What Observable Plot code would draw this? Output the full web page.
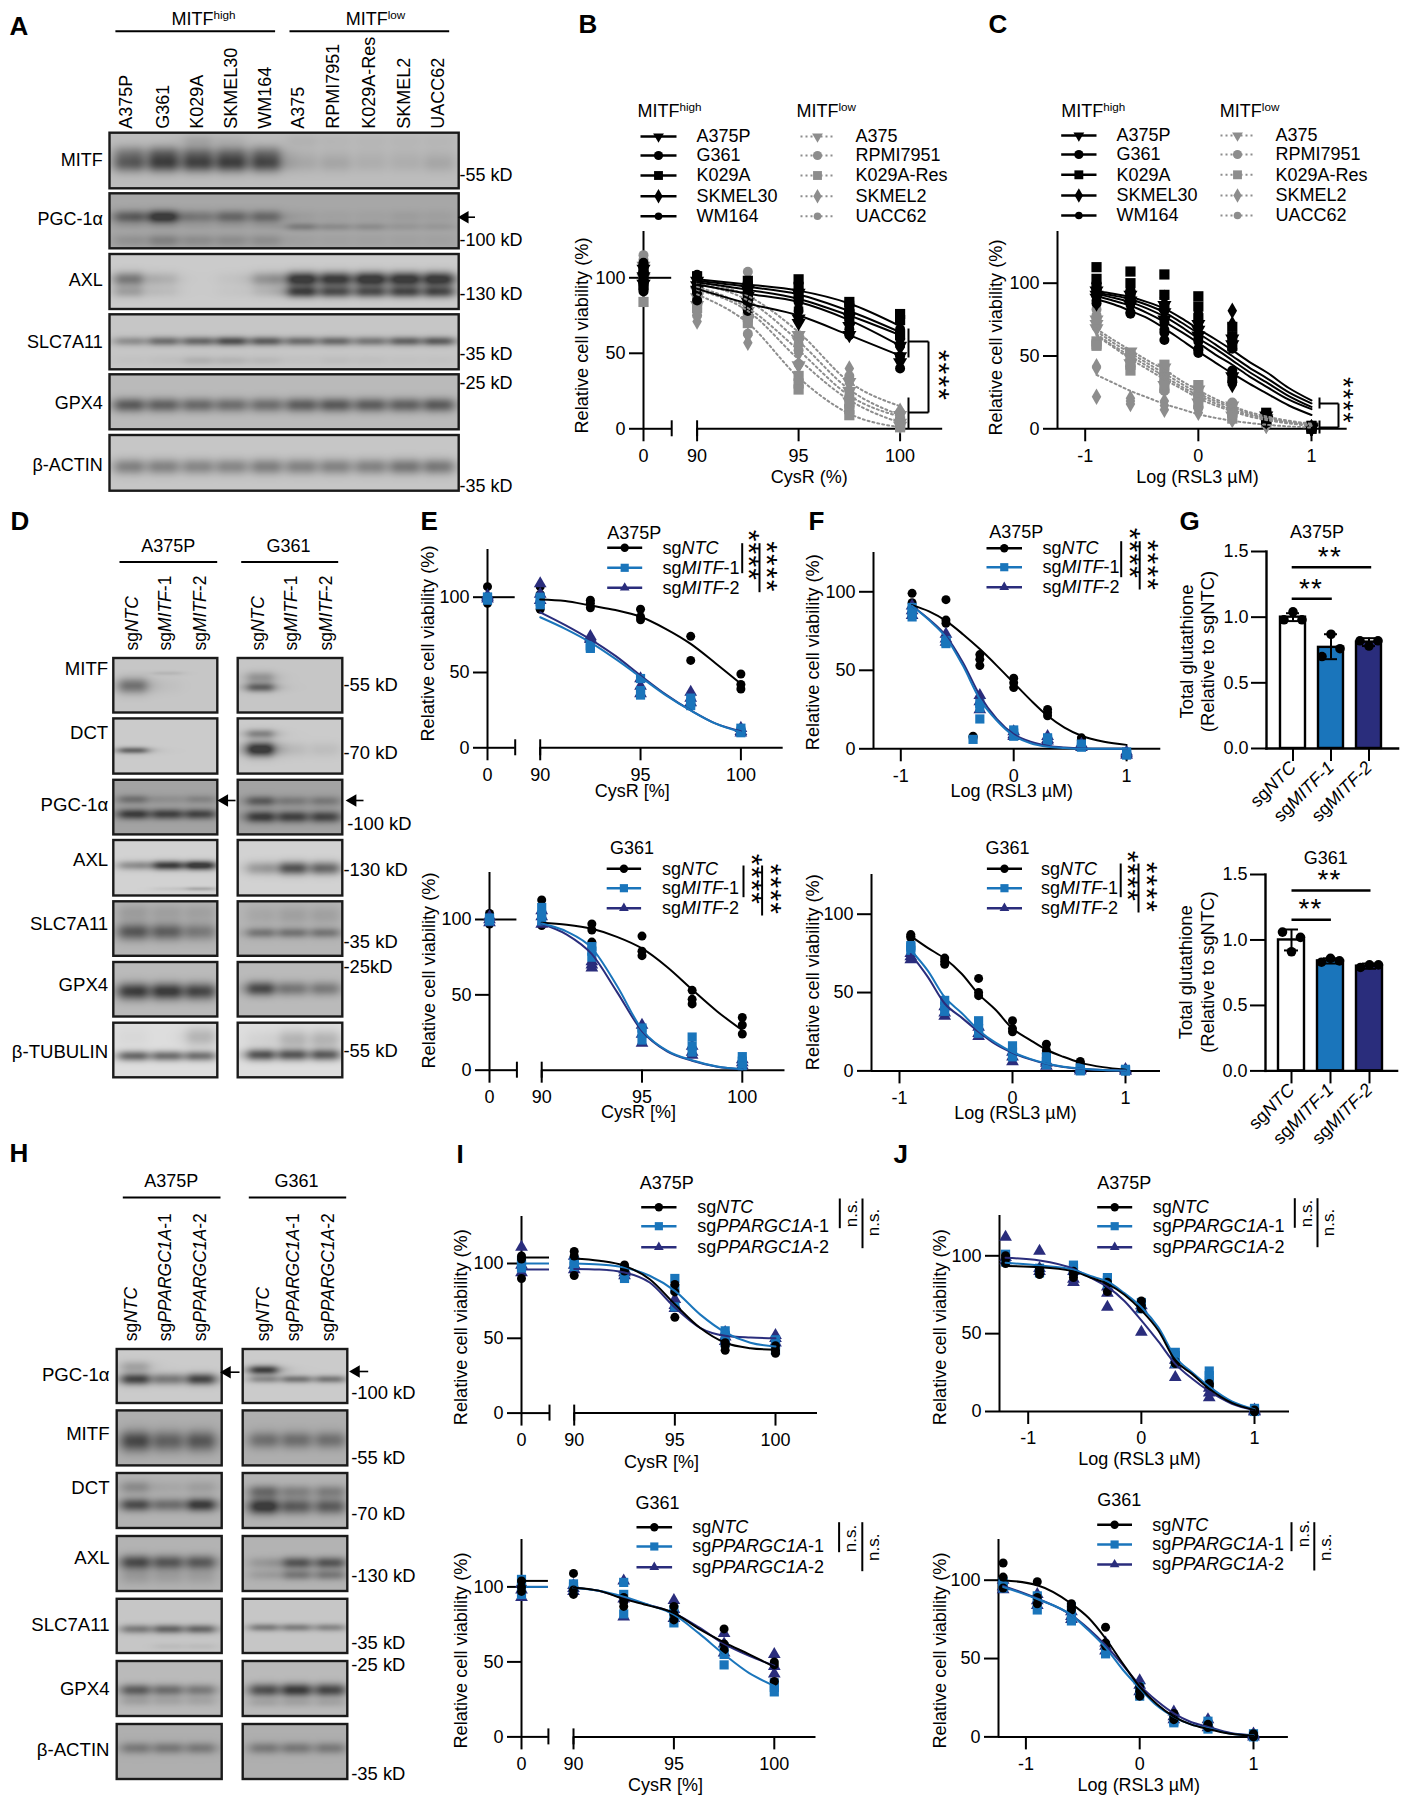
<!DOCTYPE html>
<html><head><meta charset="utf-8">
<script src="https://cdn.jsdelivr.net/npm/d3@7"></script>
<script src="https://cdn.jsdelivr.net/npm/@observablehq/plot@0.6"></script>
<style>html,body{margin:0;background:#fff}#page{position:relative;width:1410px;height:1800px;overflow:hidden;background:#fff}</style>
</head><body><div id="page"></div>
<script>
// ---------- doses ----------
const cysX5=[90,92.5,95,97.5,100];
const cysX9=[90,91.25,92.5,93.75,95,96.25,97.5,98.75,100];
const logX=[-0.9,-0.75,-0.6,-0.45,-0.3,-0.15,0,0.15,0.3,0.45,0.6,0.8,1];
const logXJ=[-1.2,-0.9,-0.6,-0.45,-0.3,-0.15,0,0.15,0.3,0.45,0.6,0.8,1];
// ---------- Panel B ----------
const bHigh=["A375P","G361","K029A","SKMEL30","WM164"];
const bLow=["A375","RPMI7951","K029A-Res","SKMEL2","UACC62"];
const bC1=[92.7,83,75,62,48.5], bC2=[95.5,89.5,84,72,55], bC3=[97,92,86,75,62], bC4=[98,94,89,78,64], bC5=[99,95.5,91.5,83,68];
const bG1=[89,70,34,10,1], bG2=[92,78,46,19,4], bG3=[94,80,52,22,8], bG4=[96,85,58,26,9], bG5=[97,88,64,31,15];
const bR1=[[0,106,101,96],[90,98,95,92],[92.5,92,88,84],[95,90,73,70],[97.5,74,68,62],[100,55,48,44]];
const bR2=[[0,110,104,98],[90,102,98,94],[92.5,97,92,88],[95,92,87,84],[97.5,84,78,72],[100,66,60,56]];
const bR3=[[0,106,100,95],[90,101,97,93],[92.5,98,94,88],[95,99,94,89],[97.5,84,80,76],[100,76,72,62]];
const bR4=[[0,104,99,93],[90,98,94,90],[92.5,93,88,84],[95,90,85,80],[97.5,75,70,64],[100,60,54,46]];
const bR5=[[0,103,96,91],[90,95,90,85],[92.5,88,83,78],[95,85,78,72],[97.5,72,66,62],[100,55,48,40]];
const bS1=[[0,108,100,96],[90,91,87,82],[92.5,84,78,72],[95,62,58,42],[97.5,31,25,18],[100,9,4,2]];
const bS2=[[0,112,102,95],[90,88,82,75],[92.5,104,80,63],[95,60,52,43],[97.5,35,25,15],[100,10,6,2]];
const bS3=[[0,105,95,84],[90,92,85,80],[92.5,82,74,70],[95,35,30,26],[97.5,18,13,9],[100,5,2,1]];
const bS4=[[0,104,98,92],[90,82,75,71],[92.5,73,62,57],[95,60,50,42],[97.5,40,30,22],[100,12,7,3]];
const bS5=[[0,115,108,100],[90,90,84,80],[92.5,80,76,72],[95,80,62,56],[97.5,33,22,14],[100,11,6,1]];
// ---------- Panel C ----------
const cC1=[94.5,92.8,90.5,87,82.5,76,68.5,61.5,54,46,39,28,19.5];
const cC2=[93.5,91.5,89,85,80,73,65.5,58,50,42,35,25,17.5];
const cC3=[92.5,90,87,82.5,77,70,62,55,47,39,32,22.5,15];
const cC4=[91,88,84.5,79.5,73.5,66.5,59,51,44,36,29,20,13.5];
const cC5=[89,85.5,81,76,69,61,53,45.5,38,31,24.5,16,9.5];
const cG1=[68.6,61,54,47,40.5,33,26.5,20.5,15.5,11.5,8.5,5.5,3.5];
const cG2=[67,59,52,45,38,31,24.5,19,14.5,10.5,7.5,4.8,3];
const cG3=[65,57,50,43,36,29,23,17.5,13,9.5,6.8,4.2,2.5];
const cG4=[64,56,48,41,34,27.5,21,16,12,8.5,6,3.7,2];
const cG5=[37,31.5,26,21.5,17,13.5,10,7.5,5.5,4,2.8,1.6,0.8];
const cR1=[[-.9,95,92,90],[-.6,92,88,85],[-.3,85,80,75],[0,72,68,64],[.3,62,58,36],[.6,9,7,6],[1,1,0,0]];
const cR2=[[-.9,100,94,88],[-.6,95,88,80],[-.3,73,66,61],[0,60,55,52],[.3,38,35,32],[.6,8,6,5],[1,1,1,0]];
const cR3=[[-.9,111,103,97],[-.6,108,100,92],[-.3,106,92,84],[0,91,84,76],[.3,70,63,57],[.6,11,9,6],[1,2,1,0]];
const cR4=[[-.9,98,92,86],[-.6,96,90,84],[-.3,90,82,76],[0,80,72,66],[.3,81,72,30],[.6,8,7,5],[1,1,0,0]];
const cR5=[[-.9,96,91,86],[-.6,93,86,79],[-.3,82,75,68],[0,70,62,54],[.3,55,40,33],[.6,9,7,4],[1,1,0,0]];
const cS1=[[-.9,75,72,69],[-.6,53,49,45],[-.3,42,36,30],[0,27,22,18],[.3,16,12,9],[.6,7,6,5],[1,2,1,1]];
const cS2=[[-.9,78,73,70],[-.6,52,47,44],[-.3,38,32,27],[0,24,20,15],[.3,18,13,9],[.6,6,5,4],[1,2,1,0]];
const cS3=[[-.9,60,58,57],[-.6,50,44,40],[-.3,44,35,28],[0,30,23,17],[.3,15,11,7],[.6,6,5,4],[1,2,1,0]];
const cS4=[[-.9,43,42,22],[-.6,21,19,17],[-.3,19,16,13],[0,15,13,11],[.3,8,7,6],[.6,3,2,2],[1,1,1,0]];
const cS5=[[-.9,82,75,71],[-.6,52,47,43],[-.3,40,33,26],[0,28,22,15],[.3,17,12,9],[.6,6,5,4],[1,2,1,0]];
// ---------- Panel E ----------
const e1N=[98.5,97.5,94.5,91.5,87,79,69,56,42.5], e1B=[86.7,79,70,59,47,35,24.8,16,10.4], e1V=[90,81.5,72,61,48,35.5,24.8,16,11];
const e1RN=[[0,107,99,96],[90,107,102,92],[92.5,98,96,93],[95,92,87,85],[97.5,74,58],[100,49,42,39]];
const e1RB=[[0,100,100,98],[90,100,97,95],[92.5,68,66,67],[95,46,38,35],[97.5,33,30,28],[100,13,11,10]];
const e1RV=[[0,101,100,99],[90,109,102,98],[92.5,74,73,72],[95,46,41,36],[97.5,37,33,30],[100,13,11,10]];
const e2N=[97.8,96.5,93.8,88.5,80.8,68.5,53.5,39,26.5], e2B=[97.3,92,81,56,27,13,6.6,2.5,.7], e2V=[97,90,77,52,26,12.5,6.3,2.3,.6];
const e2RN=[[0,104,100,97],[90,113,103,96],[92.5,97,93,85],[95,89,79,76],[97.5,53,47,44],[100,35,30,24]];
const e2RB=[[0,101,100,99],[90,108,103,99],[92.5,82,79,75],[95,28,25,20],[97.5,22,16,12],[100,9,6,3]];
const e2RV=[[0,102,100,98],[90,106,102,97],[92.5,72,70,68],[95,30,24,18],[97.5,16,12,10],[100,7,5,3]];
// ---------- Panel F ----------
const f1N=[91.5,87.5,81.5,73,63.5,53,42,31,21,13.5,8.3,4.5,2.5];
const f1B=[91,82,71,53,31.6,18,8.3,3.5,1.3,.5,0,0,0];
const f1V=[91,82.5,72,55,34,19,9.3,4.5,2,.8,.2,0,0];
const f1RN=[[-.9,99,93,86],[-.6,95,82,80],[-.36,8,7],[-.3,60,57,53],[0,45,42,39],[.3,25,23,21],[.6,7,6,5.5],[1,-2,-3,-4]];
const f1RB=[[-.9,90,87,84],[-.6,69,68,67],[-.36,6],[-.3,29,26,19],[0,12,10,8],[.3,7,6,5],[.6,3,2,1],[1,-2,-3,-4]];
const f1RV=[[-.9,91,88,85],[-.6,73,70,68],[-.3,34,30,25],[0,11,9,8],[.3,8,6,5],[.6,3,2,1],[1,-2,-3,-4]];
const f2N=[86,78.5,71.7,62,49,39,27,20,13.5,9,5.3,2.4,.8];
const f2B=[77,64,47,37,26,18,12,7.8,4.7,2.6,1.5,.5,.2];
const f2V=[74.5,60,43,34,25,17,11.5,7.5,4.5,2.5,1.4,.5,.2];
const f2RN=[[-.9,87,86,85],[-.6,72,70,68],[-.3,59,50,48],[0,32,27,25],[.3,17,13,11],[.6,6,5,4],[1,1,0,0]];
const f2RB=[[-.9,80,79,77],[-.6,45,41,38],[-.3,32,27,24],[0,16,12,9],[.3,9,6,4],[.6,2,1,0],[1,1,0,0]];
const f2RV=[[-.9,75,73,71],[-.6,41,37,35],[-.3,28,24,22],[0,12,9,6],[.3,6,5,3],[.6,1,1,0],[1,1,0,0]];
// ---------- Panel G ----------
const gLabels=["sg_NTC_","sg_MITF-1_","sg_MITF-2_"];
const g1Mean=[1,.77,.81], g1Lo=[.97,.68,.78], g1Hi=[1.03,.87,.84];
const g1Left=[.98,.70,.82], g1Mid=[1.04,.87,.78], g1Right=[.98,.76,.82];
const g2Mean=[1,.84,.80], g2Lo=[.92,.82,.78], g2Hi=[1.08,.86,.82];
const g2Left=[1.06,.83,.79], g2Mid=[.91,.86,.81], g2Right=[1.02,.84,.81];
// ---------- Panel I ----------
const i1N=[103.3,101.8,98.4,89.5,72.8,57,47,43.4,42.3], i1B=[100,99.3,97.3,91.8,81.7,66,54,47,44.5], i1V=[96.4,96,94,87.3,70.6,57,51.7,50.5,50];
const i1RN=[[0,105,103,90],[90,108,105,92],[92.5,99,97,95],[95,86,81,64],[97.5,47,45,42],[100,45,42,40]];
const i1RB=[[0,102,99,97],[90,102,100,98],[92.5,96,92,90],[95,90,83,71],[97.5,55,52,47],[100,49,46,42]];
const i1RV=[[0,111,99,94],[90,105,99,96],[92.5,96,94,92],[95,76,72,70],[97.5,54,51,48],[100,52,50,47]];
const i2N=[99.5,97.5,92,87.5,82.6,72,63,55,46.7], i2B=[99.5,97.5,93.5,88,81.5,69,55,42.5,34], i2V=[99.5,97.5,92.5,88,82.5,73,62,54,47.5];
const i2RN=[[0,104,100,97],[90,109,98,95],[92.5,93,90,87],[95,87,82,78],[97.5,72,62,58],[100,50,48,37]];
const i2RB=[[0,105,100,95],[90,102,100,98],[92.5,103,95,82],[95,85,80,76],[97.5,60,55,48],[100,36,33,30]];
const i2RV=[[0,102,98,93],[90,101,99,97],[92.5,104,92,80],[95,91,85,79],[97.5,69,62,56],[100,55,47,42]];
// ---------- Panel J ----------
const j1N=[93.4,92.7,90,86,82,75,65,52,32.8,24,14.6,5.5,1], j1B=[95.5,93.8,91,87,83.5,76,67,54,35,25,16,6.5,1.5], j1V=[98.7,97,91.6,86,80,71,58.5,45,30.6,21,13,5,1];
const j1RN=[[-1.2,100,98,95],[-.9,92,90,88],[-.6,90,88,86],[-.3,83,82,77],[0,71,68,66],[.3,32,31,31],[.6,18,17,16],[1,1,0,0]];
const j1RB=[[-1.2,101,98,96],[-.9,92,90,89],[-.6,94,92,90],[-.3,86,84,82],[0,70,68,66],[.3,38,36,31],[.6,26,23,20],[1,2,1,0]];
const j1RV=[[-1.2,112,99,97],[-.9,103,92,90],[-.6,90,85,83],[-.3,80,76,67],[0,68,66,51],[.3,33,30,22],[.6,15,12,9],[1,1,0,0]];
const j2N=[100,96.8,85,76,62.8,47,32,21,13,8,5,2,.8], j2B=[95.7,88,77.7,68,57,43,31,20,12.8,8,5.5,2,1], j2V=[96.4,88.3,77.7,69,58.5,46,33,23,15,9.5,6.4,2.5,1];
const j2RN=[[-1.2,111,102,95],[-.9,99,89,85],[-.6,85,83,81],[-.3,70,60,58],[0,32,29,26],[.3,15,13,11],[.6,8,7,6],[1,2,1,0]];
const j2RB=[[-1.2,99,97,95],[-.9,90,86,81],[-.6,83,78,74],[-.3,58,55,53],[0,32,28,26],[.3,12,10,9],[.6,10,7,5],[1,2,1,0]];
const j2RV=[[-1.2,100,96,94],[-.9,91,87,84],[-.6,80,77,75],[-.3,60,58,55],[0,36,33,29],[.3,16,13,11],[.6,11,8,6],[1,2,1,0]];
// ---------- Blot band strengths: [centre, spread, per-lane darkness] ----------
const blotA=[
 {name:"MITF",base:.24,bands:[[.55,.13,[.42,.52,.5,.52,.5,.08,.1,.06,.06,.1]],[.36,.12,[.24,.32,.28,.28,.28,.03,.03,.03,.03,.03]],[.13,.1,[0,0,.1,.05,0,.05,.03,.03,.03,.03]]]},
 {name:"PGC-1α",base:.33,bands:[[.42,.1,[.35,.6,.2,.3,.3,.04,.03,.03,.05,.04]],[.6,.06,[.03,.03,.03,.03,.03,.2,.12,.12,.07,.07]],[.85,.1,[.1,.18,.12,.12,.12,.03,.03,.03,.03,.03]]]},
 {name:"AXL",base:.18,bands:[[.45,.11,[.4,.12,0,.03,.25,.75,.68,.75,.72,.75]],[.68,.09,[.2,.06,0,.02,.08,.65,.55,.55,.58,.6]]]},
 {name:"SLC7A11",base:.2,bands:[[.48,.07,[.25,.4,.42,.55,.48,.4,.42,.35,.45,.5]],[.83,.07,[.02,.03,.1,.08,.06,.02,.04,.03,.02,.02]]]},
 {name:"GPX4",base:.25,bands:[[.55,.11,[.45,.4,.36,.34,.34,.42,.44,.42,.4,.45]]]},
 {name:"β-ACTIN",base:.2,bands:[[.56,.12,[.32,.3,.28,.28,.32,.3,.3,.3,.36,.36]]]}
];
const blotD=[
 {name:"MITF",base:.2,left:[[.5,.12,[.42,.02,0]],[.27,.03,[0,.08,0]]],right:[[.53,.07,[.5,0,0]],[.35,.09,[.25,0,0]]]},
 {name:"DCT",base:.18,left:[[.57,.05,[.5,0,0]]],right:[[.55,.11,[.82,.06,.06]],[.27,.07,[.35,0,0]]]},
 {name:"PGC-1α",base:.35,left:[[.35,.07,[.25,.08,.15]],[.62,.08,[.5,.45,.45]]],right:[[.38,.08,[.35,.18,.2]],[.67,.09,[.5,.45,.45]]]},
 {name:"AXL",base:.15,left:[[.45,.07,[.3,.7,.8]],[.87,.03,[0,.05,.2]]],right:[[.5,.1,[.25,.6,.5]]]},
 {name:"SLC7A11",base:.27,left:[[.55,.13,[.45,.4,.28]],[.2,.14,[.12,.1,.1]]],right:[[.57,.08,[.3,.3,.3]],[.25,.15,[.07,.1,.1]]]},
 {name:"GPX4",base:.25,left:[[.53,.13,[.6,.6,.55]]],right:[[.48,.11,[.55,.3,.3]]]},
 {name:"β-TUBULIN",base:.1,left:[[.6,.08,[.55,.5,.5]],[.25,.15,[.03,0,.2]]],right:[[.58,.09,[.65,.6,.6]],[.3,.15,[.05,.2,.2]]]}
];
const blotH=[
 {name:"PGC-1α",base:.18,left:[[.55,.09,[.65,.35,.65]],[.32,.09,[.2,0,0]]],right:[[.38,.07,[.7,0,0]],[.55,.06,[.3,.4,.4]]]},
 {name:"MITF",base:.3,left:[[.55,.16,[.5,.35,.42]]],right:[[.53,.13,[.3,.3,.3]]]},
 {name:"DCT",base:.28,left:[[.57,.1,[.5,.3,.6]],[.25,.1,[.2,.05,.1]]],right:[[.6,.12,[.65,.4,.42]],[.33,.1,[.35,.22,.25]]]},
 {name:"AXL",base:.28,left:[[.47,.11,[.5,.42,.42]],[.72,.13,[.12,.1,.1]]],right:[[.48,.09,[.12,.45,.45]],[.7,.08,[.1,.28,.28]]]},
 {name:"SLC7A11",base:.2,left:[[.55,.07,[.35,.45,.45]],[.87,.05,[0,.05,.05]]],right:[[.52,.06,[.35,.33,.3]]]},
 {name:"GPX4",base:.25,left:[[.52,.09,[.45,.35,.3]],[.72,.08,[.12,.1,.1]]],right:[[.52,.1,[.5,.6,.55]],[.75,.07,[.1,.1,.1]]]},
 {name:"β-ACTIN",base:.3,left:[[.43,.09,[.25,.25,.25]]],right:[[.43,.09,[.25,.25,.25]]]}
];

// ---------- styles ----------
const FONT='"Liberation Sans", Arial, sans-serif';
const BLACK="#000", BLUE="#1a75bb", NAVY="#2a2d7c", GRAY="#8d8d8d";
const pageEl=document.getElementById("page");

// markup: _italic_  ^superscript^
function markup(svg){
  svg.querySelectorAll("text").forEach(el=>{
    const ts=el.querySelectorAll("tspan");
    (ts.length?[...ts]:[el]).forEach(n=>{
      const s=n.textContent;
      if(/^\*+$/.test(s)) el.setAttribute("letter-spacing","1.2");
      if(!/[_^]/.test(s))return;
      n.textContent="";
      s.split(/(_[^_]+_|\^[^^]+\^)/).filter(Boolean).forEach(p=>{
        const sp=document.createElementNS("http://www.w3.org/2000/svg","tspan");
        if(p[0]==="_"){sp.setAttribute("font-style","italic");sp.textContent=p.slice(1,-1);}
        else if(p[0]==="^"){sp.setAttribute("font-size","65%");sp.setAttribute("dy","-0.5em");sp.textContent=p.slice(1,-1);}
        else sp.textContent=p;
        n.appendChild(sp);
      });
    });
  });
  return svg;
}
function mount(opts,L,T){
  const svg=Plot.plot({...opts,style:{position:"absolute",left:L+"px",top:T+"px",background:"transparent",overflow:"visible",fontFamily:FONT,color:"#000"}});
  pageEl.appendChild(markup(svg));
}

// ---------- page layer: blots, titles, legends, brackets ----------
const texts=[], segs=[], swatches=[], rasters=[], frames=[], tips=[];
function t(x,y,s,o={}){texts.push({x,y,s,fs:o.fs??18,a:o.a??"start",r:o.r??0,b:o.b?1:0});}
function seg(x1,y1,x2,y2,w=2,c="#000",d=null){segs.push({x1,y1,x2,y2,w,c,d});}
function stars(x,yc,n=4,fs=30){texts.push({x:x-.085*fs,y:yc,s:"*".repeat(n),fs,a:"middle",r:90,b:0});}
function starsH(xc,y,n=2,fs=28){texts.push({x:xc,y:y+.11*fs,s:"*".repeat(n),fs,a:"middle",r:0,b:0});}
function arrow(tip,tail,y){seg(tip+4,y,tail,y,1.6);tips.push({x:tip+4,y});}
function swatch(x1,x2,y,sym,color,dashed,r){
  seg(x1,y,x2,y,dashed?2:2.6,color,dashed?"2,3":null);
  swatches.push({x:(x1+x2)/2,y,sym,color,r});
}
function legend3(title,tx,ty,names,rows,sx1,sx2,lx,fs=18){
  t(tx,ty,title,{fs});
  const st=[["circle",BLACK],["square",BLUE],["triangle",NAVY]];
  names.forEach((n,i)=>{swatch(sx1,sx2,rows[i],st[i][0],st[i][1],false,i==0?4.2:i==1?4.6:3.6);t(lx,rows[i],n,{fs});});
}
const sgM=["sg_NTC_","sg_MITF_-1","sg_MITF_-2"], sgP=["sg_NTC_","sg_PPARGC1A_-1","sg_PPARGC1A_-2"];
const yLabel="Relative cell viability (%)", cysP="CysR (%)", cysB="CysR [%]", rsl="Log (RSL3 µM)";
// letters
[["A",9,26],["B",578,24],["C",988,24],["D",10,521],["E",420,521],["F",808,521],["G",1179,521],["H",9,1153],["I",456,1154],["J",893,1154]]
 .forEach(([s,x,y])=>t(x,y,s,{fs:26,b:1}));

function blotBlock(rows,tops,cols,layers){
  rows.forEach((row,i)=>{
    cols.forEach((c,j)=>{
      const top=tops[i][0],bot=tops[i][1],h=bot-top;
      const bands=layers(row,j), sp=(c.lanes[1]-c.lanes[0]);
      const fn=(x,y)=>{
        let v=0, ry=(y-top)/h;
        for(const [yc,s,a] of bands){
          const gy=Math.exp(-(((ry-yc)/(s*1.2))**2));
          c.lanes.forEach((lx,k)=>{
            if(a[k]>0) v+=a[k]*gy/(1+(Math.abs(x-lx)/(sp*.44))**4);
          });
        }
        return row.base+Math.min(.78-row.base,v*.85);
      };
      rasters.push(Plot.raster({x1:c.l,x2:c.r,y1:top,y2:bot,fill:fn,pixelSize:1,imageRendering:"auto"}));
      frames.push({x1:c.l,x2:c.r,y1:top,y2:bot});
    });
  });
}
// --- A
const aTops=[[132.7,188.3],[193.3,248.3],[254,309],[314.3,369.3],[374.3,429.3],[435,490.7]];
blotBlock(blotA,aTops,[{l:109.5,r:458.7,lanes:[128.5,163,197.5,231,266,301,335,370,404.5,438.5]}],(r)=>r.bands);
[159.3,219,280,341.7,403,465].forEach((y,i)=>t(102.3,y,blotA[i].name,{a:"end"}));
[...bHigh,...bLow].forEach((n,i)=>t([125.6,163,197,231,265,298,333,369,404,438][i],128.3,n,{r:-90}));
t(203,18.3,"MITF^high^",{a:"middle"});t(375,18.3,"MITF^low^",{a:"middle"});
seg(114.9,30.7,274.6,30.7);seg(289,30.7,448.7,30.7);
[["-55 kD",174.3],["-100 kD",240],["-130 kD",294],["-35 kD",353.3],["-25 kD",382.7],["-35 kD",486]].forEach(([s,y])=>t(459,y,s));
arrow(460.5,474.5,216.7);
// --- D
const dTops=[[658,712.5],[718.4,773.6],[779.8,834.4],[840,895.5],[901.3,955.8],[962,1016.5],[1022.7,1077.3]];
const dCols=[{l:113.3,r:217.3,lanes:[132.7,166.7,200]},{l:237.7,r:342.3,lanes:[260,292.3,325]}];
blotBlock(blotD,dTops,dCols,(r,j)=>j?r.right:r.left);
[669,732.5,805,860,924,985,1052].forEach((y,i)=>t(107.7,y,blotD[i].name,{a:"end",fs:18.6}));
[[131.7,0],[165,1],[200,2],[258,0],[291,1],[326,2]].forEach(([x,k])=>t(x,650,sgM[k],{r:-90,fs:17.5}));
t(167.7,546,"A375P",{a:"middle",fs:18});t(288,546,"G361",{a:"middle",fs:18});
seg(119,561.6,216.7,561.6);seg(240.7,561.6,337.7,561.6);
[["-55 kD",343,684.5],["-70 kD",343,752.5],["-100 kD",346.7,823.5],["-130 kD",343,870],["-35 kD",343,942],["-25kD",343,967],["-55 kD",343,1051]].forEach(([s,x,y])=>t(x,y,s,{fs:18.4}));
arrow(220,235,800);arrow(348.3,363,800);
// --- H
const hTops=[[1349,1403],[1410.4,1465.4],[1473,1528],[1536,1591],[1598.8,1653],[1661,1716],[1724,1779]];
const hCols=[{l:116.7,r:221.7,lanes:[135,167.7,200.7]},{l:242.7,r:347.3,lanes:[263.3,296,330]}];
blotBlock(blotH,hTops,hCols,(r,j)=>j?r.right:r.left);
[1375,1434,1488,1557.5,1625,1689,1750].forEach((y,i)=>t(109,y,blotH[i].name,{a:"end",fs:18.6}));
[[131,0],[165,1],[200,2],[262.7,0],[293.3,1],[327.7,2]].forEach(([x,k])=>t(x,1340.8,sgP[k],{r:-90,fs:17.5}));
t(170.7,1180.4,"A375P",{a:"middle",fs:18});t(296,1180.4,"G361",{a:"middle",fs:18});
seg(122.3,1197,220,1197);seg(248.3,1197,345.7,1197);
[["-100 kD",1393],["-55 kD",1457.5],["-70 kD",1513.8],["-130 kD",1575.8],["-35 kD",1642.5],["-25 kD",1665],["-35 kD",1773.8]].forEach(([s,y])=>t(350.7,y,s,{fs:18.4}));
arrow(222.7,239,1371.7);arrow(351.7,367.7,1371);
// --- B, C legends
const hSyms=["tridown","circle","square","diamond","circle"], hR=[4,4.6,5,4.4,3.8];
function legend10(hx,lx,hy,rows,s1,s2,l1,g1,g2,l2){
  t(hx,hy,"MITF^high^");t(lx,hy,"MITF^low^");
  rows.forEach((y,i)=>{
    swatch(s1,s2,y,hSyms[i],BLACK,false,hR[i]);t(l1,y,bHigh[i]);
    swatch(g1,g2,y,hSyms[i],GRAY,true,hR[i]);t(l2,y,bLow[i]);
  });
}
legend10(637,796,110.7,[136,155,175,195.7,215.7],640,676,696,800,834,855);
legend10(1060.7,1219.3,110.7,[135,154,174.3,195,215],1060.7,1096,1116,1220,1254,1275);
// B bracket
seg(908,328,908,357);seg(908,397,908,428);seg(908,341,928,341);seg(908,412,928,412);seg(928,341,928,412);stars(941,375,4,30);
// C bracket
seg(1319,397,1319,408);seg(1319,420,1319,433);seg(1319,403,1338,403);seg(1319,427,1338,427);seg(1338,403,1338,427);stars(1344,400,4,27);
// axis titles
[[581.7,335],[996,337],[428,643],[429,970],[812.4,651.7],[812.5,971.7],[460.7,1326.7],[460.6,1650],[940,1326.7],[939.5,1650]]
 .forEach(([x,y])=>t(x,y,yLabel,{a:"middle",r:-90,fs:18.2}));
[[808.7,476.7,cysP],[1197,476.7,rsl],[631.7,791,cysB],[638,1111.7,cysB],[1011.3,791,rsl],[1015,1112.7,rsl],[661,1461.7,cysB],[664.9,1785,cysB],[1139,1458.3,rsl],[1138.3,1785,rsl]]
 .forEach(([x,y,s])=>t(x,y,s,{a:"middle",fs:18}));
// E, F legends and brackets
legend3("A375P",606.7,532.7,sgM,[547.3,567.3,587.3],606.7,641.7,662);
seg(741.7,542.7,741.7,572.7);seg(759,542.7,759,591.7);stars(751,555);stars(769,566.5);
legend3("G361",609.4,847.3,sgM,[868.3,887.7,907.7],606.2,640.6,661.6);
seg(743,865,743,896.7);seg(761.6,865,761.6,915);stars(754,879);stars(772.4,889);
legend3("A375P",988.8,531.7,sgM,[547.7,566.7,586.7],986,1021.5,1042);
seg(1120.7,540.7,1120.7,576.7);seg(1139.2,540.7,1139.2,589);stars(1131.3,553);stars(1149.4,565);
legend3("G361",985,847.3,sgM,[868.3,887.7,907.7],986.4,1021.5,1040.6);
seg(1120.2,863,1120.2,896.7);seg(1138,863,1138,912);stars(1129.7,876);stars(1148.9,887);
// G text
t(1316.4,531.7,"A375P",{a:"middle",fs:18});t(1325.3,857.3,"G361",{a:"middle",fs:18});
[[1186.5,651],[1185.8,971.7]].forEach(([x,y])=>t(x,y,"Total glutathione",{a:"middle",r:-90,fs:18.4}));
[[1207.3,651],[1207.5,971.7]].forEach(([x,y])=>t(x,y,"(Relative to sgNTC)",{a:"middle",r:-90,fs:18.4}));
seg(1291.2,566.7,1370.7,566.7,2.4);seg(1291.2,598.3,1331.3,598.3,2.4);starsH(1329.4,553);starsH(1310.5,585);
seg(1291,890,1370,890,2.4);seg(1291,919.3,1330.4,919.3,2.4);starsH(1329,876);starsH(1310,905);
// I, J legends and brackets
function ns(x,yc){t(x,yc,"n.s.",{a:"middle",r:-90,fs:17});}
legend3("A375P",639.3,1182.3,sgP,[1206.7,1225.7,1246.7],640.7,676,696.7);
seg(839.3,1198,839.3,1227.7);seg(862,1198,862,1247.7);ns(850.7,1213);ns(873.3,1222);
legend3("G361",634.9,1502.3,sgP,[1526.7,1546,1566.7],636,671.6,691.8);
seg(838.6,1521.7,838.6,1551.7);seg(861.8,1521.7,861.8,1570.7);ns(850,1538);ns(873.4,1546.7);
legend3("A375P",1096.7,1182.3,sgP,[1206.7,1225.7,1246.7],1096.7,1131.7,1152.3);
seg(1294.3,1197.7,1294.3,1227.3);seg(1317,1197.7,1317,1246.7);ns(1305.7,1213);ns(1328.3,1222);
legend3("G361",1096.7,1500,sgP,[1524.3,1544,1564],1096.7,1131.5,1151.7);
seg(1291,1521.7,1291,1550.7);seg(1313.8,1521.7,1313.8,1570);ns(1302.8,1533);ns(1324.8,1546.7);

const textMarks=["start","middle","end"].flatMap(a=>[0,1].map(b=>Plot.text(texts.filter(d=>d.a===a&&d.b===b),{x:"x",y:"y",text:"s",fontSize:"fs",rotate:"r",textAnchor:a,fontWeight:b?"bold":"normal",lineAnchor:"middle",fill:"#000"})));
const symOf=s=>s==="tridown"?"triangle":s;
mount({
  width:1410,height:1800,margin:0,
  x:{domain:[0,1410],range:[0,1410],axis:null},
  y:{domain:[0,1800],range:[0,1800],axis:null},
  color:{type:"linear",domain:[0,1],range:["#f6f6f6","#080808"],clamp:true},
  marks:[
    ...rasters,
    Plot.rect(frames,{x1:"x1",x2:"x2",y1:"y1",y2:"y2",fill:"none",stroke:"#1a1a1a",strokeWidth:2.4}),
    ...segs.map(d=>Plot.link([d],{x1:"x1",y1:"y1",x2:"x2",y2:"y2",stroke:d.c,strokeWidth:d.w,strokeDasharray:d.d??undefined})),
    ...swatches.map(d=>Plot.dot([d],{x:"x",y:"y",symbol:symOf(d.sym),rotate:d.sym==="tridown"?180:0,r:d.r,fill:d.color,stroke:"none"})),
    Plot.dot(tips,{x:"x",y:"y",symbol:"triangle",rotate:-90,r:4.6,fill:"#000",stroke:"none"}),
    ...textMarks
  ]
},0,0);

// ---------- data panels ----------
const reps=r=>r.flatMap(([dose,...vs])=>vs.map(v=>({dose,v})));
function S(curveX,curve,rp,sym,color,dashed,mean){return {curveX,curve,rp,sym,color,dashed:!!dashed,mean};}
function panel(p){
  const {f,y100,series,r=4.5,lw=2}=p;
  const L=f[0]-72,T=f[1]-8,R=f[2]+8,B=f[3]+50;
  const ymax=100*(f[3]-f[1])/(f[3]-y100), ybk=8/((f[3]-y100)/100);
  let xs,bx,ticks,extra=[];
  if(p.brk){
    // the broken axis: 0–1 and 90–end share one position scale
    const k=(p.x100-p.x90)/10, xr=90+(f[2]-p.x90)/k, W=f[2]-f[0];
    bx=d3.scaleLinear().domain([0,1,90,xr]).range([0,p.brk-f[0],p.x90-f[0],W]);
    xs={domain:[0,W],axis:null};
    ticks=[0,90,95,100];
    extra=[Plot.ruleY([0],{x1:bx(0),x2:bx(1),stroke:"#000",strokeWidth:2}),Plot.ruleY([0],{x1:bx(90),x2:W,stroke:"#000",strokeWidth:2}),
      Plot.ruleX([bx(1),bx(90)],{y1:-ybk,y2:ybk,stroke:"#000",strokeWidth:2})];
  }else{
    const k=(p.x1-p.xm1)/2, xl=(f[0]-p.xm1)/k-1, xr=(f[2]-p.xm1)/k-1;
    bx=d=>d;
    xs={domain:[xl,xr],axis:null};
    ticks=[-1,0,1];
    extra=[Plot.ruleY([0],{stroke:"#000",strokeWidth:2})];
  }
  const tickLabel=new Map(ticks.map(d=>[bx(d),String(d)]));
  const marks=[
    Plot.ruleX([xs.domain[0]],{y1:0,y2:ymax,stroke:"#000",strokeWidth:2}),
    ...extra,
    Plot.axisY({ticks:[0,50,100],tickSize:14,tickPadding:4,fontSize:18,label:null,strokeWidth:2,tickFormat:d=>String(d)}),
    Plot.axisX({ticks:ticks.map(bx),tickSize:13,tickPadding:7,fontSize:18,label:null,strokeWidth:2,tickFormat:d=>tickLabel.get(d)})
  ];
  series.forEach(s=>{
    if(s.mean!=null) marks.push(Plot.ruleY([s.mean],{x1:bx(0),x2:bx(1),stroke:s.dashed?"#000":s.color,strokeWidth:2}));
    marks.push(Plot.dot(reps(s.rp),{x:d=>bx(d.dose),y:"v",symbol:symOf(s.sym),rotate:s.sym==="tridown"?180:0,fill:s.color,stroke:"none",
      r:s.sym==="square"?r*1.15:s.sym==="triangle"||s.sym==="tridown"?r*1.05:r}));
  });
  series.forEach(s=>{
    const rows=s.curveX.map((x,i)=>({x:bx(x),y:s.curve[i]}));
    marks.push(Plot.line(rows,{x:"x",y:"y",curve:"monotone-x",stroke:s.color,strokeWidth:s.dashed?2:lw,strokeDasharray:s.dashed?"2,3":undefined}));
  });
  mount({width:R-L,height:B-T,marginLeft:f[0]-L,marginRight:R-f[2],marginTop:f[1]-T,marginBottom:B-f[3],x:xs,y:{domain:[0,ymax],axis:null},marks},L,T);
}
// B
panel({f:[642.8,231,942,428.3],y100:277.3,brk:671,x90:696.4,x100:899.4,r:5,series:[
  S(cysX5,bG5,bS5,"circle",GRAY,1),S(cysX5,bG4,bS4,"diamond",GRAY,1),S(cysX5,bG1,bS3,"square",GRAY,1),S(cysX5,bG3,bS2,"circle",GRAY,1),S(cysX5,bG2,bS1,"tridown",GRAY,1),
  S(cysX5,bC1,bR5,"circle",BLACK,0),S(cysX5,bC2,bR4,"diamond",BLACK,0),S(cysX5,bC3,bR1,"tridown",BLACK,0),S(cysX5,bC4,bR2,"circle",BLACK,0),S(cysX5,bC5,bR3,"square",BLACK,0,100)]});
// C
panel({f:[1057.3,231,1347,428.3],y100:282.7,xm1:1085,x1:1311.3,r:5,series:[
  S(logX,cG5,cS4,"diamond",GRAY,1),S(logX,cG4,cS3,"square",GRAY,1),S(logX,cG3,cS5,"circle",GRAY,1),S(logX,cG2,cS2,"circle",GRAY,1),S(logX,cG1,cS1,"tridown",GRAY,1),
  S(logX,cC5,cR2,"circle",BLACK,0),S(logX,cC4,cR5,"circle",BLACK,0),S(logX,cC3,cR1,"tridown",BLACK,0),S(logX,cC2,cR4,"diamond",BLACK,0),S(logX,cC1,cR3,"square",BLACK,0)]});
const three=(x,n,b,v,rn,rb,rv,mean)=>[S(x,n,rn,"circle",BLACK,0,mean&&mean[0]),S(x,v,rv,"triangle",NAVY,0,mean&&mean[2]),S(x,b,rb,"square",BLUE,0,mean&&mean[1])];
const threeTop=(x,n,b,v,rn,rb,rv,mean)=>[S(x,v,rv,"triangle",NAVY,0,mean&&mean[2]),S(x,b,rb,"square",BLUE,0,mean&&mean[1]),S(x,n,rn,"circle",BLACK,0,mean&&mean[0])];
// E
panel({f:[487.3,549,783,747.3],y100:596.7,brk:515,x90:540,x100:740.7,series:three(cysX9,e1N,e1B,e1V,e1RN,e1RB,e1RV,[100])});
panel({f:[489,872.3,784.5,1070],y100:919.3,brk:516.4,x90:541.2,x100:741.8,series:three(cysX9,e2N,e2B,e2V,e2RN,e2RB,e2RV,[100])});
// F
panel({f:[872.7,551.7,1160,748],y100:591,xm1:900,x1:1125.8,series:three(logX,f1N,f1B,f1V,f1RN,f1RB,f1RV)});
panel({f:[871,874.3,1160,1070.7],y100:914,xm1:899,x1:1125,series:three(logX,f2N,f2B,f2V,f2RN,f2RB,f2RV)});
// I
panel({f:[521.3,1215.7,817.3,1412.3],y100:1262.7,brk:549.3,x90:574,x100:775.3,series:threeTop(cysX9,i1N,i1B,i1V,i1RN,i1RB,i1RV,[104,100,96])});
panel({f:[520.5,1539.3,815,1736.7],y100:1586.7,brk:547.4,x90:572.5,x100:773.3,series:threeTop(cysX9,i2N,i2B,i2V,i2RN,i2RB,i2RV,[104,100,100])});
// J
panel({f:[999.3,1215,1289.3,1411],y100:1255.3,xm1:1028,x1:1254.3,series:threeTop(logXJ,j1N,j1B,j1V,j1RN,j1RB,j1RV)});
panel({f:[997.6,1539.3,1287.5,1736.7],y100:1580,xm1:1025,x1:1252.6,series:threeTop(logXJ,j2N,j2B,j2V,j2RN,j2RB,j2RV)});
// G
function bars(f,cs,mean,lo,hi,left,mid,right){
  const L=f[0]-72,T=f[1]-8,R=f[2]+8,B=f[3]+75;
  const step=(cs[2]-cs[0])/2, a=cs[0]-step/2-L, b=cs[2]+step/2-L;
  const rows=gLabels.map((g,i)=>({g,m:mean[i],lo:lo[i],hi:hi[i],l:left[i],c:mid[i],r:right[i],fill:["#fff",BLUE,NAVY][i]}));
  mount({width:R-L,height:B-T,marginLeft:f[0]-L,marginRight:R-f[2],marginTop:f[1]-T,marginBottom:B-f[3],
    x:{type:"band",domain:gLabels,range:[a,b],paddingInner:.34,paddingOuter:.17,axis:null},
    y:{domain:[0,1.5],axis:null},
    marks:[
      ...rows.map(d=>Plot.barY([d],{x:"g",y:"m",fill:d.fill,stroke:"#000",strokeWidth:2.4})),
      Plot.ruleX(rows,{x:"g",y1:"lo",y2:"hi",stroke:"#000",strokeWidth:2}),
      Plot.tickY(rows,{x:"g",y:"lo",stroke:"#000",strokeWidth:2,insetLeft:6,insetRight:6}),
      Plot.tickY(rows,{x:"g",y:"hi",stroke:"#000",strokeWidth:2,insetLeft:6,insetRight:6}),
      Plot.dot(rows,{x:"g",y:"l",r:4.8,fill:"#000",dx:-9}),
      Plot.dot(rows,{x:"g",y:"c",r:4.8,fill:"#000"}),
      Plot.dot(rows,{x:"g",y:"r",r:4.8,fill:"#000",dx:9}),
      Plot.axisY({ticks:[0,.5,1,1.5],tickSize:15,tickPadding:3,fontSize:18,label:null,strokeWidth:2,tickFormat:d3.format(".1f")}),
      Plot.axisX({tickSize:13,tickPadding:3,fontSize:18,label:null,strokeWidth:2,tickRotate:-45}),
      Plot.frame({anchor:"left",stroke:"#000",strokeWidth:2.4}),
      Plot.frame({anchor:"bottom",stroke:"#000",strokeWidth:2.4})
    ]},L,T);
}
bars([1266.4,550.7,1398,747.7],[1292,1330.6,1369.5],g1Mean,g1Lo,g1Hi,g1Left,g1Mid,g1Right);
bars([1265.4,874.3,1397,1070.7],[1291.5,1330.4,1369.9],g2Mean,g2Lo,g2Hi,g2Left,g2Mid,g2Right);
</script></body></html>
